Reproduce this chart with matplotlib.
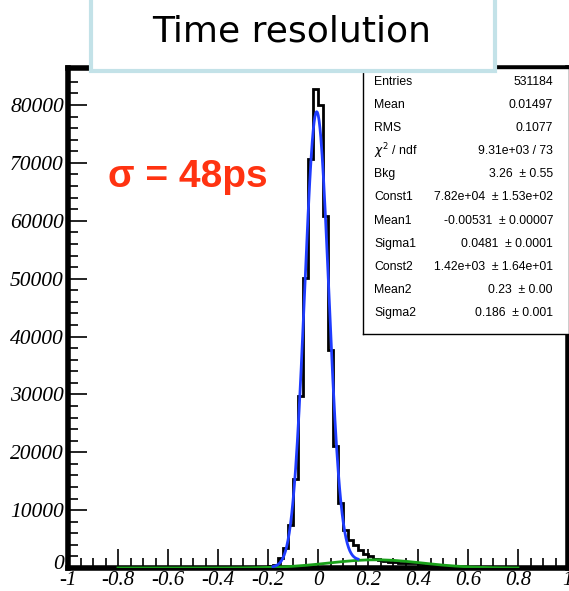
import numpy as np
import matplotlib
matplotlib.use("Agg")
import matplotlib.pyplot as plt
import matplotlib.transforms as mtransforms
from matplotlib.patches import Rectangle

# histogram: 100 bins of 0.02 between -1 and 1
bin_lo, bin_hi, n_bins = -1.0, 1.0, 100
counts = [
    2, 3, 2, 4, 3, 3, 5, 4, 3, 5,                 # -1.0 .. -0.8
    4, 5, 6, 5, 7, 6, 8, 7, 9, 10,                # -0.8 .. -0.6
    11, 12, 14, 15, 18, 20, 24, 28, 33, 40,       # -0.6 .. -0.4
    48, 56, 66, 80, 95, 110, 130, 160, 200, 250,  # -0.4 .. -0.2
    350, 600, 1700, 3500, 7500, 15300, 29800, 50100, 70700, 82800,  # -0.2 .. 0
    80000, 60800, 37600, 21100, 11250, 6600, 4900, 4000, 3100, 2500,  # 0 .. 0.2
    2000, 1500, 1300, 1150, 1050, 1000, 950, 900, 850, 800,  # 0.2 .. 0.4
    700, 600, 500, 420, 350, 290, 240, 190, 150, 120,  # 0.4 .. 0.6
    90, 70, 50, 40, 30, 22, 16, 12, 9, 7,              # 0.6 .. 0.8
    5, 4, 3, 3, 2, 3, 2, 2, 2, 2,                      # 0.8 .. 1.0
]

# fit parameters from the stats box
bkg = 3.26
const1, mean1, sigma1 = 7.82e4, -0.00531, 0.0481
const2, mean2, sigma2 = 1.42e3, 0.23, 0.186

stats_labels = ["Entries", "Mean", "RMS", r"$\chi^2$ / ndf", "Bkg", "Const1", "Mean1",
                "Sigma1", "Const2", "Mean2", "Sigma2"]
stats_values = ["531184", "0.01497", "0.1077", "9.31e+03 / 73", "3.26  \u00b1 0.55",
                "7.82e+04  \u00b1 1.53e+02", "-0.00531  \u00b1 0.00007", "0.0481  \u00b1 0.0001",
                "1.42e+03  \u00b1 1.64e+01", "0.23  \u00b1 0.00", "0.186  \u00b1 0.001"]

x_ticks = [-1, -0.8, -0.6, -0.4, -0.2, 0, 0.2, 0.4, 0.6, 0.8, 1]
x_labels = ["-1", "-0.8", "-0.6", "-0.4", "-0.2", "0", "0.2", "0.4", "0.6", "0.8", "1"]
y_ticks = [0, 10000, 20000, 30000, 40000, 50000, 60000, 70000, 80000]


def gaus(x, c, m, s):
    return c * np.exp(-0.5 * ((x - m) / s) ** 2)


W, H = 569, 591
fig = plt.figure(figsize=(W / 100, H / 100), dpi=100)
ax = fig.add_axes([68 / W, 23 / H, 500 / W, 500 / H])

edges = np.linspace(bin_lo, bin_hi, n_bins + 1)
ax.stairs(counts, edges, color="black", lw=2, zorder=3)

# second gaussian + background over the full fit range
xg = np.linspace(-0.8, 0.8, 33)
ax.plot(xg, bkg + gaus(xg, const2, mean2, sigma2), color="#1aa01a", lw=2, zorder=4)

# total function near the peak
xb = np.linspace(-0.18, 0.16, 200)
ax.plot(xb, bkg + gaus(xb, const1, mean1, sigma1) + gaus(xb, const2, mean2, sigma2),
        color="#1f3cff", lw=2, zorder=5)

ax.set_xlim(-1, 1)
ax.set_ylim(0, 86400)
ax.set_xticks(x_ticks)
ax.set_xticklabels(x_labels)
ax.set_yticks(y_ticks)
ax.set_yticklabels([str(v) for v in y_ticks])
ax.set_xticks(np.arange(-1, 1.001, 0.05), minor=True)
ax.set_yticks(np.arange(0, 86000, 2000), minor=True)
ax.tick_params(which="major", direction="in", length=14, width=1.2, pad=3,
               labelsize=15.5, top=False, right=False)
ax.tick_params(axis="x", which="major", pad=2, labelsize=15)
ax.tick_params(which="minor", direction="in", length=7, width=1.2, top=False, right=False)
for lab in ax.get_xticklabels() + ax.get_yticklabels():
    lab.set_fontfamily("Liberation Serif")
    lab.set_fontstyle("italic")
# lift the y "0" a little so it does not sit on the "-1"
zero_lab = ax.get_yticklabels()[0]
zero_lab.set_transform(zero_lab.get_transform() +
                       mtransforms.ScaledTranslation(0, 4 / 72, fig.dpi_scale_trans))
for sp in ax.spines.values():
    sp.set_linewidth(4)

# stats box
ax_box = fig.add_axes([363 / W, (H - 334) / H, (W - 363) / W, (334 - 68) / H])
ax_box.set_xticks([])
ax_box.set_yticks([])
for sp in ax_box.spines.values():
    sp.set_linewidth(1)
for i, (lab, val) in enumerate(zip(stats_labels, stats_values)):
    y = 1 - (82 + i * 23.1 - 68) / (334 - 68)
    ax_box.text(11 / (W - 363), y, lab, fontsize=8.8, family="Liberation Sans", va="center")
    ax_box.text((553 - 363) / (W - 363), y, val, fontsize=8.8, family="Liberation Sans",
                va="center", ha="right")

# sigma annotation
fig.text(108 / W, 1 - 177 / H, "\u03c3 = 48ps", color="#ff3311", fontsize=28,
         fontweight="bold", family="Liberation Sans", va="center")

# title box
fig.patches.append(Rectangle((91 / W, 1 - 71 / H), 404 / W, 80 / H, transform=fig.transFigure,
                             facecolor="white", edgecolor="#c3e2e8", lw=3, zorder=10))
fig.text(292 / W, 1 - 31 / H, "Time resolution", fontsize=26, family="DejaVu Sans",
         ha="center", va="center", zorder=11)

fig.savefig("out.png", dpi=100)
